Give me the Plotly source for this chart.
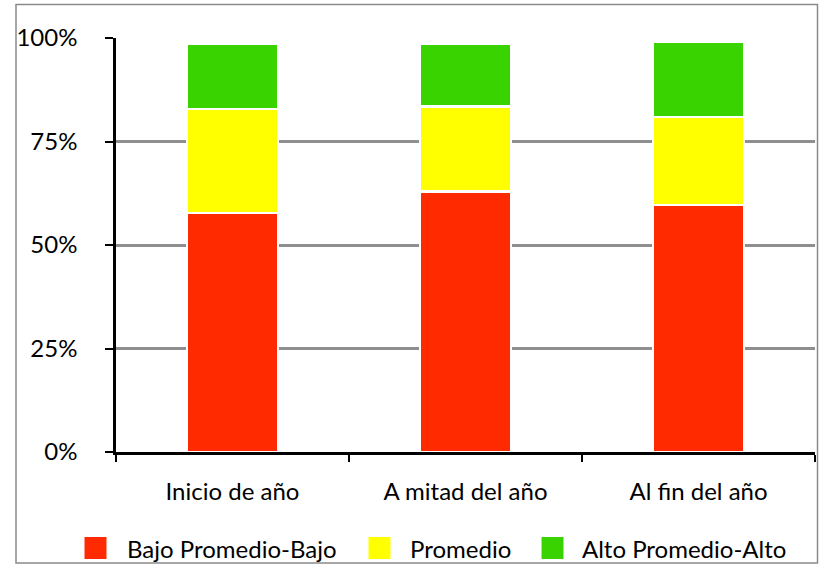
import plotly.graph_objects as go

categories = ["Inicio de año", "A mitad del año", "Al fin del año"]
series_names = ["Bajo Promedio-Bajo", "Promedio", "Alto Promedio-Alto"]
bajo = [57.7, 62.9, 59.7]
promedio = [25.1, 20.6, 21.2]
alto = [15.8, 15.1, 18.3]
colors = ["#ff2a00", "#ffff00", "#39d400"]
tick_vals = [0, 25, 50, 75, 100]
tick_text = ["0%", "25%", "50%", "75%", "100%"]

FONT = "Lato"
FS = 24
W, H = 821, 566
L, R, T, B = 116, 6, 38, 114
pw = W - L - R
ph = H - T - B

def px_x(x):
    return (x - L) / pw

def px_y(y):
    return (H - B - y) / ph

fig = go.Figure()
for name, vals, col in zip(series_names, [bajo, promedio, alto], colors):
    fig.add_trace(go.Bar(
        x=categories, y=vals, name=name,
        marker=dict(color=col, line=dict(color="white", width=2.5)),
        width=0.39, showlegend=False,
    ))

shapes = []
annotations = []
# frame
shapes.append(dict(type="rect", xref="paper", yref="paper",
                   x0=px_x(16), x1=px_x(817.5), y0=px_y(563), y1=px_y(4.5),
                   line=dict(color="#8a8a8a", width=1.5), layer="below"))
# manual legend
leg_sq_x = [84, 368, 541]
leg_txt_x = [125, 408, 580]
leg_y = 548
for name, col, sx, tx in zip(series_names, colors, leg_sq_x, leg_txt_x):
    shapes.append(dict(type="rect", xref="paper", yref="paper",
                       x0=px_x(sx), x1=px_x(sx + 23), y0=px_y(leg_y + 11.5), y1=px_y(leg_y - 11.5),
                       fillcolor=col, line=dict(color="white", width=1)))
    annotations.append(dict(text=name, xref="paper", yref="paper",
                            x=px_x(tx), y=px_y(leg_y), xanchor="left", yanchor="middle",
                            showarrow=False, font=dict(family=FONT, size=FS, color="black")))

fig.update_layout(
    barmode="stack",
    width=W, height=H,
    margin=dict(l=L, r=R, t=T, b=B),
    paper_bgcolor="white", plot_bgcolor="white",
    font=dict(family=FONT, size=FS, color="black"),
    shapes=shapes,
    annotations=annotations,
    showlegend=False,
)
fig.update_xaxes(
    showline=True, linecolor="black", linewidth=2.5,
    ticks="outside", tickson="boundaries", ticklen=7, tickwidth=2, tickcolor="black",
    showgrid=False, ticklabelstandoff=16,
    tickfont=dict(family=FONT, size=FS, color="black"),
)
fig.update_yaxes(
    range=[0, 100], tickvals=tick_vals, ticktext=tick_text,
    showline=True, linecolor="black", linewidth=2.5,
    ticks="outside", ticklen=8, tickwidth=2, tickcolor="black",
    showgrid=True, gridcolor="#8f8f8f", gridwidth=2.5, zeroline=False,
    ticklabelstandoff=23,
    tickfont=dict(family=FONT, size=FS, color="black"),
)

fig.write_html("out.html", config={"displayModeBar": False},
               post_script="document.body.style.margin='0';document.body.style.overflow='hidden';")
